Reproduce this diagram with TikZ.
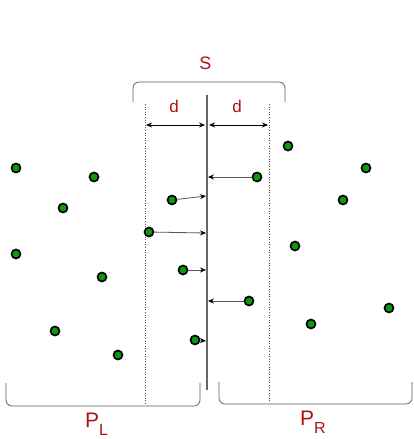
\documentclass[tikz,border=0pt]{standalone}
\usepackage{fontspec}
\setmainfont{Liberation Sans}
\usetikzlibrary{arrows.meta}
\definecolor{lbl}{HTML}{B01010}
\definecolor{ptgreen}{HTML}{0A9A0A}
\tikzset{
  pt/.style={circle, fill=ptgreen, draw=black, line width=1.7pt, minimum size=9pt, inner sep=0pt},
  brace/.style={draw=black!65, line width=0.7pt, rounded corners=6pt},
  strip/.style={draw=black!70, line width=0.6pt, dotted},
  mid/.style={draw=black!60, line width=1.1pt},
  proj/.style={draw=black!65, line width=0.8pt, -{Stealth[length=6pt,width=5pt,black]}},
  dim/.style={draw=black, line width=0.7pt, {Stealth[length=6pt,width=5pt]}-{Stealth[length=6pt,width=5pt]}},
  lab/.style={text=lbl, font=\fontsize{17}{19}\selectfont, inner sep=0pt},
  big/.style={text=lbl, font=\fontsize{21}{23}\selectfont, inner sep=0pt, anchor=base west}
}
\newcommand{\lowsub}[1]{\raisebox{-0.42em}{\fontsize{16}{18}\selectfont #1}}
\begin{document}
\begin{tikzpicture}[x=1pt,y=-1pt]
\useasboundingbox (0,0) rectangle (413,439);

% dividing line and the strip of width 2d
\coordinate (midtop) at (207,95);
\coordinate (midbot) at (207,390);
\draw[mid] (midtop) -- (midbot);
\coordinate (ltop) at (145,104);
\coordinate (lbot) at (145,405);
\coordinate (rtop) at (269,104);
\coordinate (rbot) at (269,402);
\draw[strip] (ltop) -- (lbot);
\draw[strip] (rtop) -- (rbot);

% brace for S
\draw[brace] (133,102) -- (133,82) -- (285,82) -- (285,102);
\node[lab, font=\fontsize{18}{20}\selectfont] (S) at (205.5,63.5) {S};

% d dimensions
\coordinate (dl) at (146,125);
\coordinate (dm1) at (205,125);
\coordinate (dm2) at (209,125);
\coordinate (dr) at (268,125);
\draw[dim] (dl) -- (dm1);
\draw[dim] (dm2) -- (dr);
\node[lab] (d1) at (174,106) {d};
\node[lab] (d2) at (237,106) {d};

% braces for the two halves
\draw[brace] (6,383) -- (6,406) -- (200,406) -- (200,383);
\draw[brace] (219,382) -- (219,404) -- (412,404) -- (412,382);
\node[big] (PL) at (85,427) {P\lowsub{L}};
\node[big] (PR) at (300,425) {P\lowsub{R}};

% points of the left half
\node[pt] (a1) at (16,168) {};
\node[pt] (a2) at (94,177) {};
\node[pt] (a3) at (63,208) {};
\node[pt] (a4) at (16,254) {};
\node[pt] (a5) at (102,277) {};
\node[pt] (a6) at (55,331) {};
\node[pt] (a7) at (118,355) {};

% points of the right half
\node[pt] (b1) at (288,146) {};
\node[pt] (b2) at (366,168) {};
\node[pt] (b3) at (343,200) {};
\node[pt] (b4) at (295,246) {};
\node[pt] (b5) at (389,308) {};
\node[pt] (b6) at (311,324) {};

% points inside the strip, projected onto the line
\node[pt] (s1) at (172,200) {};
\node[pt] (s2) at (149,232) {};
\node[pt] (s3) at (183,270) {};
\node[pt] (s4) at (195,340) {};
\node[pt] (s5) at (257,177) {};
\node[pt] (s6) at (249,301) {};
\coordinate (t1) at (206,196);
\coordinate (t2) at (206,233);
\coordinate (t3) at (206,270);
\coordinate (t4) at (206,341);
\coordinate (t5) at (208,177);
\coordinate (t6) at (208,301);
\draw[proj] (s1) -- (t1);
\draw[proj] (s2) -- (t2);
\draw[proj] (s3) -- (t3);
\draw[proj] (s4) -- (t4);
\draw[proj] (s5) -- (t5);
\draw[proj] (s6) -- (t6);
\end{tikzpicture}
\end{document}
